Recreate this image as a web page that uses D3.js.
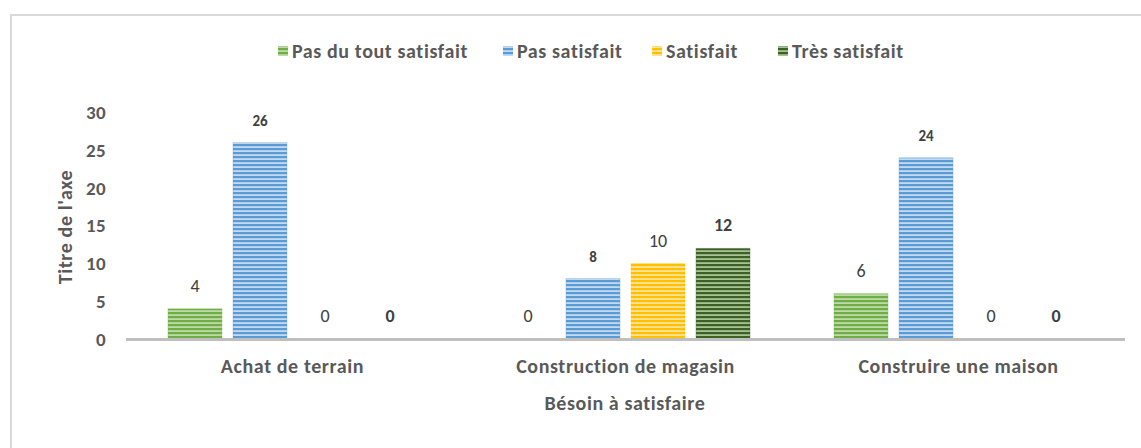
<!DOCTYPE html>
<html><head><meta charset="utf-8">
<script src="https://cdn.jsdelivr.net/npm/d3@7"></script>
<style>body{margin:0;background:#fff}svg{display:block}text{font-family:Carlito,Lato,sans-serif}</style>
</head><body>
<svg id="c" width="1141" height="448"></svg>
<script>
const categories = ["Achat de terrain", "Construction de magasin", "Construire une maison"];
const seriesNames = ["Pas du tout satisfait", "Pas satisfait", "Satisfait", "Très satisfait"];
const pasDuTout = [4, 0, 6];
const pasSatisfait = [26, 8, 24];
const satisfait = [0, 10, 0];
const tresSatisfait = [0, 12, 0];
const yTicks = [0, 5, 10, 15, 20, 25, 30];
const seriesColors = ["#70AD47", "#5B9BD5", "#FFC000", "#3B6125"];
const seriesLight = ["#bcdca6", "#c3dbf1", "#ffe39a", "#a8c196"];
const labelBold = [false, true, false, true];
const labelSize = [18, 15, 18, 18];
const values = [pasDuTout, pasSatisfait, satisfait, tresSatisfait];

const svg = d3.select("#c");
const defs = svg.append("defs");
seriesNames.forEach((s, i) => {
  const p = defs.append("pattern").attr("id", "pat" + i).attr("patternUnits", "userSpaceOnUse")
    .attr("width", 8).attr("height", 4);
  p.append("rect").attr("width", 8).attr("height", 4).attr("fill", seriesLight[i]);
  p.append("rect").attr("width", 8).attr("height", 2.2).attr("fill", seriesColors[i]);
});

// frame
svg.append("rect").attr("x", 11).attr("y", 15).attr("width", 1200).attr("height", 500)
  .attr("fill", "none").attr("stroke", "#d9d9d9").attr("stroke-width", 2);

const plotLeft = 126, plotRight = 1125, plotTop = 112.5, plotBase = 339;
const y = d3.scaleLinear().domain([0, 30]).range([plotBase, plotTop]);
const x0 = d3.scaleBand().domain(categories).range([plotLeft, plotRight]);
const x1 = d3.scaleBand().domain(seriesNames).range([42, 291]).paddingInner(0.17).paddingOuter(0);

// y ticks
svg.append("g").selectAll("text").data(yTicks).join("text")
  .attr("x", 106).attr("y", d => y(d)).attr("dy", "0.35em").attr("text-anchor", "end")
  .attr("font-size", 19).attr("letter-spacing", 0.4).attr("font-weight", "bold").attr("fill", "#595959").text(d => d);

// bars
categories.forEach((c, ci) => {
  const g = svg.append("g").attr("transform", `translate(${x0(c)},0)`);
  seriesNames.forEach((s, si) => {
    const v = values[si][ci];
    if (v > 0) {
      g.append("rect").attr("x", x1(s)).attr("width", x1.bandwidth())
        .attr("y", y(v)).attr("height", y(0) - y(v)).attr("fill", `url(#pat${si})`)
        .attr("stroke", seriesColors[si]).attr("stroke-opacity", 0.35).attr("stroke-width", 1);
    }
    g.append("text").attr("x", x1(s) + x1.bandwidth() / 2).attr("y", y(v) - 17)
      .attr("text-anchor", "middle").attr("font-size", labelSize[si])
      .attr("font-weight", labelBold[si] ? "bold" : "normal").attr("fill", "#404040").text(v);
  });
});

// baseline
svg.append("line").attr("x1", plotLeft).attr("x2", plotRight).attr("y1", 339.5).attr("y2", 339.5)
  .attr("stroke", "#bfbfbf").attr("stroke-width", 3);

// category labels
svg.append("g").selectAll("text").data(categories).join("text")
  .attr("x", d => x0(d) + x0.bandwidth() / 2).attr("y", 373).attr("text-anchor", "middle")
  .attr("font-size", 20).attr("letter-spacing", 0.6).attr("font-weight", "bold").attr("fill", "#595959").text(d => d);

// axis titles
svg.append("text").attr("x", 625).attr("y", 410).attr("text-anchor", "middle")
  .attr("font-size", 20).attr("letter-spacing", 0.6).attr("font-weight", "bold").attr("fill", "#595959").text("Bésoin à satisfaire");
svg.append("text").attr("transform", "translate(72,227) rotate(-90)").attr("text-anchor", "middle")
  .attr("font-size", 20).attr("letter-spacing", 0.6).attr("font-weight", "bold").attr("fill", "#595959").text("Titre de l'axe");

// legend
const legX = [278, 503, 652, 778];
const leg = svg.append("g");
seriesNames.forEach((s, i) => {
  leg.append("rect").attr("x", legX[i]).attr("y", 46).attr("width", 10).attr("height", 10).attr("fill", `url(#pat${i})`);
  leg.append("text").attr("x", legX[i] + 14).attr("y", 51).attr("dy", "0.35em")
    .attr("font-size", 20).attr("letter-spacing", 0.6).attr("font-weight", "bold").attr("fill", "#595959").text(s);
});
</script>
</body></html>
